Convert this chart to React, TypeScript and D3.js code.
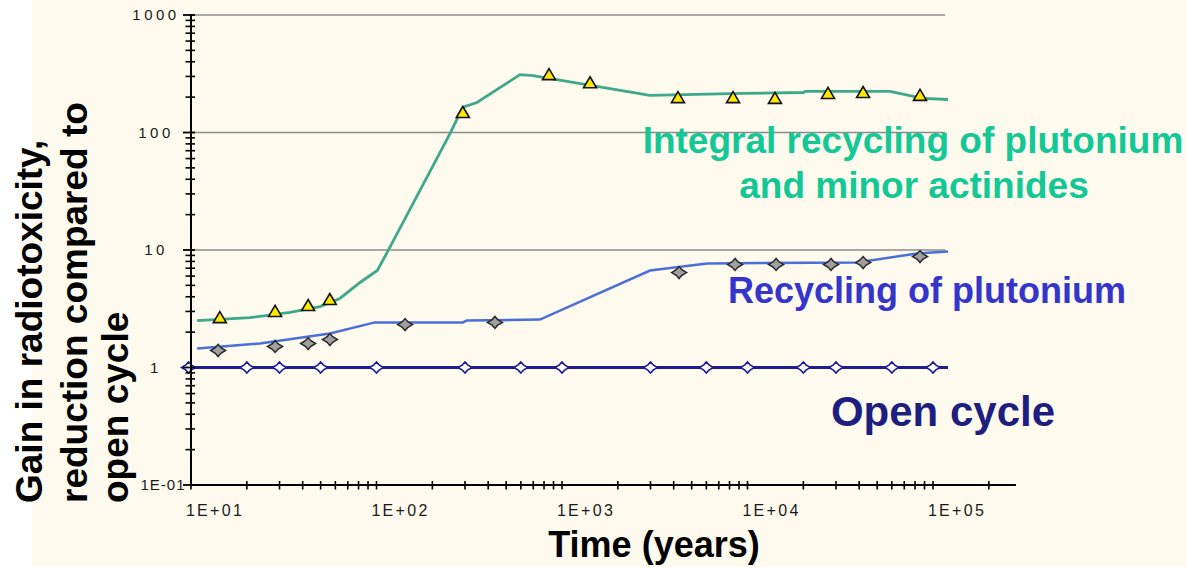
import React from "react";
import * as d3 from "d3";

// ---- data (time in years, gain factor) ----
const integralLineT = [10.8, 20.8, 34.2, 49.6, 63.5, 81.5, 101, 114, 249, 292, 348, 594, 698, 2980, 9460, 20000, 20500, 58600, 88300, 120500];
const integralLineV = [2.51, 2.66, 2.94, 3.3, 3.87, 5.29, 6.69, 9.5, 98, 164, 180, 311, 305, 207, 215, 219, 224, 224, 195, 191];
const integralMarkT = [14.3, 28.4, 42.8, 56, 292, 851, 1416, 4217, 8360, 14060, 27160, 41980, 85100];
const integralMarkV = [2.66, 3.0, 3.37, 3.79, 148, 311, 265, 198, 198, 195, 215, 219, 207];

const plutoLineT = [10.8, 23.5, 56.1, 98, 292, 307, 760, 2980, 6050, 38900, 82000, 120500];
const plutoLineV = [1.45, 1.6, 1.95, 2.42, 2.42, 2.51, 2.56, 6.69, 7.68, 7.84, 9.33, 9.71];
const plutoMarkT = [14, 28.4, 42.8, 56.1, 142.6, 435, 4276, 8570, 14260, 28200, 42000, 85100];
const plutoMarkV = [1.395, 1.51, 1.6, 1.73, 2.32, 2.42, 6.43, 7.53, 7.53, 7.53, 7.82, 8.8];

const openLineT = [9.7, 120500];
const openLineV = [1, 1];
const openMarkT = [9.7, 20, 30, 50, 100, 300, 600, 1000, 3000, 6000, 10000, 20000, 30000, 60000, 100000];
const openMarkV = [1, 1, 1, 1, 1, 1, 1, 1, 1, 1, 1, 1, 1, 1, 1];

const xTickValues = [10, 100, 1000, 10000, 100000];
const xTickLabels = ["1E+01", "1E+02", "1E+03", "1E+04", "1E+05"];
const yTickValues = [0.1, 1, 10, 100, 1000];
const yTickLabels = ["1E-01", "1", "10", "100", "1000"];
const gridValues = [10, 100, 1000];

const FONT = "'Liberation Sans', Arial, Helvetica, sans-serif";

const x = d3.scaleLog().domain([10, 100000]).range([191, 933]);
const y = d3.scaleLog().domain([0.1, 1000]).range([485, 15]);

const line = d3
  .line<[number, number]>()
  .x((d) => x(d[0]))
  .y((d) => y(d[1]));

const zip = (a: number[], b: number[]) => a.map((t, i) => [t, b[i]] as [number, number]);

function star4(w: number, h: number, i: number) {
  const p = d3.path();
  p.moveTo(-w, 0);
  p.lineTo(-i, -i);
  p.lineTo(0, -h);
  p.lineTo(i, -i);
  p.lineTo(w, 0);
  p.lineTo(i, i);
  p.lineTo(0, h);
  p.lineTo(-i, i);
  p.closePath();
  return p.toString();
}
function tri() {
  const p = d3.path();
  p.moveTo(0, -6);
  p.lineTo(6.5, 5);
  p.lineTo(-6.5, 5);
  p.closePath();
  return p.toString();
}

export default function App() {
  const W = 1187;
  const H = 567;
  const yMinor: number[] = [];
  for (let k = -1; k <= 2; k++) for (let m = 2; m <= 9; m++) yMinor.push(m * Math.pow(10, k));
  const xMinor: number[] = [];
  for (let k = 1; k <= 5; k++) for (let m = 1; m <= 9; m++) {
    const v = m * Math.pow(10, k);
    if (v <= 200000) xMinor.push(v);
  }

  const bluePath = star4(7.5, 6, 2.8);
  const openPath = star4(7, 5.5, 2.6);
  const triPath = tri();

  return (
    <svg
      width={W}
      height={H}
      style={{ position: "absolute", left: 0, top: 0, display: "block" }}
      fontFamily={FONT}
    >
      <rect x={0} y={0} width={W} height={H} fill="#FEFAEE" />
      <rect x={0} y={0} width={32} height={H} fill="#FFFFFF" />

      {gridValues.map((v) => (
        <line key={v} x1={191} x2={945} y1={y(v)} y2={y(v)} stroke="#8c8c8c" strokeWidth={1.5} />
      ))}

      <path d={line(zip(openLineT, openLineV)) || ""} fill="none" stroke="#1C1C96" strokeWidth={3} />
      <path d={line(zip(plutoLineT, plutoLineV)) || ""} fill="none" stroke="#4A6FD8" strokeWidth={2.5} />
      <path d={line(zip(integralLineT, integralLineV)) || ""} fill="none" stroke="#3DA88A" strokeWidth={2.8} />

      {zip(openMarkT, openMarkV).map((d, i) => (
        <path key={"o" + i} d={openPath} transform={`translate(${x(d[0])},${y(d[1])})`} fill="#FFFFFF" stroke="#1C1C96" strokeWidth={1.6} />
      ))}
      {zip(plutoMarkT, plutoMarkV).map((d, i) => (
        <path key={"p" + i} d={bluePath} transform={`translate(${x(d[0])},${y(d[1])})`} fill="#A0A0A0" stroke="#2a2a2a" strokeWidth={1.5} />
      ))}
      {zip(integralMarkT, integralMarkV).map((d, i) => (
        <path key={"g" + i} d={triPath} transform={`translate(${x(d[0])},${y(d[1])})`} fill="#FFE800" stroke="#111111" strokeWidth={1.6} />
      ))}

      <line x1={191} x2={191} y1={14} y2={486} stroke="#000" strokeWidth={2} />
      {yTickValues.map((v) => (
        <line key={"ym" + v} x1={183} x2={195} y1={y(v)} y2={y(v)} stroke="#000" strokeWidth={1.8} />
      ))}
      {yMinor.map((v) => (
        <line key={"yn" + v} x1={185.5} x2={195} y1={y(v)} y2={y(v)} stroke="#000" strokeWidth={1.6} />
      ))}
      {yTickValues.map((v, i) => (
        <text
          key={"yl" + v}
          x={i === 0 ? 163 : 156}
          y={y(v) + 5}
          textAnchor="middle"
          fontSize={15}
          letterSpacing={i === 0 ? 1 : 3.5}
          fill="#1a1a1a"
        >
          {yTickLabels[i]}
        </text>
      ))}

      <line x1={190} x2={1016} y1={485} y2={485} stroke="#000" strokeWidth={2} />
      {xMinor.map((v) => (
        <line key={"xn" + v} x1={x(v)} x2={x(v)} y1={481} y2={489.5} stroke="#000" strokeWidth={1.6} />
      ))}
      {xTickValues.map((v, i) => (
        <text key={"xl" + v} x={x(v) + 24} y={516} textAnchor="middle" fontSize={16} letterSpacing={2.3} fill="#1a1a1a">
          {xTickLabels[i]}
        </text>
      ))}

      <text x={654} y={557} textAnchor="middle" fontSize={36} fontWeight="bold" fill="#000">
        Time (years)
      </text>
      <g fontSize={37} fontWeight="bold" fill="#000">
        <text transform="translate(42,503) rotate(-90)">Gain in radiotoxicity,</text>
        <text transform="translate(87,503) rotate(-90)">reduction compared to</text>
        <text transform="translate(128,503) rotate(-90)">open cycle</text>
      </g>

      <g fontWeight="bold" textAnchor="middle">
        <text x={913} y={153} fontSize={37} fill="#14C896">Integral recycling of plutonium</text>
        <text x={914} y={198} fontSize={37} fill="#14C896">and minor actinides</text>
        <text x={927} y={303} fontSize={36} fill="#3535CC">Recycling of plutonium</text>
        <text x={943} y={426} fontSize={42} fill="#1E1E80">Open cycle</text>
      </g>
    </svg>
  );
}
